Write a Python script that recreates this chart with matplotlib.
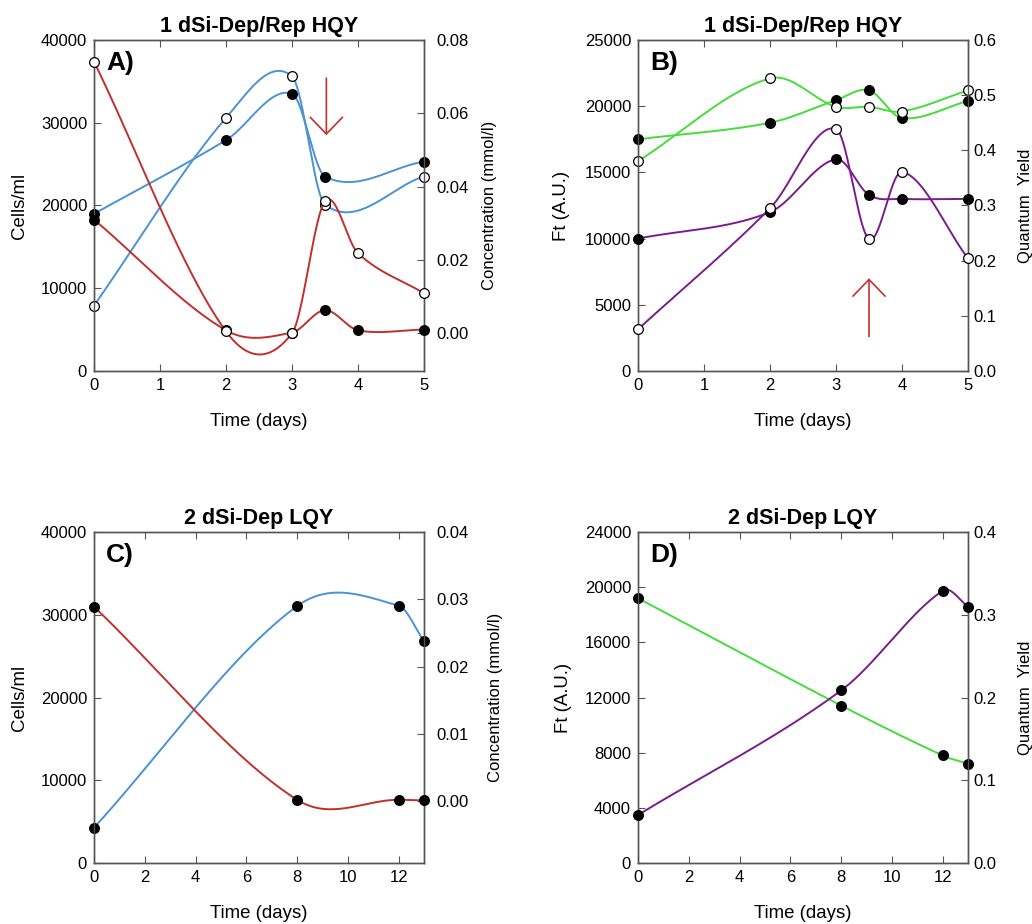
import numpy as np
import matplotlib
matplotlib.use("Agg")
import matplotlib.pyplot as plt
from matplotlib.ticker import FormatStrFormatter

plt.rcParams['font.family'] = ['Liberation Sans', 'DejaVu Sans']

# ---------------- data ----------------
# Panel A (1 dSi-Dep/Rep HQY): cells (left axis) and concentration (right axis)
A_cell_days = [0, 2, 3, 3.5, 5]
A_cells_filled = [19000, 27900, 33500, 23500, 25300]
A_cells_open = [7900, 30600, 35600, 20100, 23500]
A_conc_days = [0, 2, 3, 3.5, 4, 5]
A_conc_filled = [0.031, 0.0008, 0.0002, 0.0063, 0.0008, 0.0010]
A_conc_open = [0.0741, 0.0005, 0.0000, 0.0360, 0.0218, 0.0109]

# Panel B (1 dSi-Dep/Rep HQY): Ft (left) and quantum yield (right)
B_days = [0, 2, 3, 3.5, 4, 5]
B_ft_filled = [17500, 18750, 20450, 21200, 19100, 20400]
B_ft_open = [15850, 22100, 19950, 19950, 19600, 21200]
B_qy_filled = [0.240, 0.288, 0.384, 0.319, 0.312, 0.312]
B_qy_open = [0.0755, 0.295, 0.439, 0.239, 0.361, 0.204]

# Panel C (2 dSi-Dep LQY)
C_days = [0, 8, 12, 13]
C_cells = [4270, 31050, 31100, 26800]
C_conc = [0.0289, 0.0002, 0.0002, 0.0001]

# Panel D (2 dSi-Dep LQY)
D_days = [0, 8, 12, 13]
D_ft = [19200, 11420, 7800, 7200]
D_qy = [0.058, 0.2085, 0.329, 0.310]

# annotation arrows (x, y_start, y_end) in left-axis data units
A_arrow = (3.52, 35400, 28500)
B_arrow = (3.50, 2600, 7000)

BLUE = '#4A92D4'
RED = '#C0302C'
GREEN = '#44DD3A'
PURPLE = '#7A1C8C'
SPINE = '#555555'


def spline(x, y, n=60):
    """Smooth curve through the points (cubic Hermite, finite-difference tangents)."""
    x = np.asarray(x, float)
    y = np.asarray(y, float)
    k = len(x)
    m = np.zeros(k)
    m[0] = (y[1] - y[0]) / (x[1] - x[0])
    m[-1] = (y[-1] - y[-2]) / (x[-1] - x[-2])
    for i in range(1, k - 1):
        m[i] = (y[i + 1] - y[i - 1]) / (x[i + 1] - x[i - 1])
    xs_all, ys_all = [], []
    for i in range(k - 1):
        h = x[i + 1] - x[i]
        t = np.linspace(0, 1, n)
        h00 = 2 * t ** 3 - 3 * t ** 2 + 1
        h10 = t ** 3 - 2 * t ** 2 + t
        h01 = -2 * t ** 3 + 3 * t ** 2
        h11 = t ** 3 - t ** 2
        ys = h00 * y[i] + h10 * h * m[i] + h01 * y[i + 1] + h11 * h * m[i + 1]
        xs_all.append(x[i] + t * h)
        ys_all.append(ys)
    return np.concatenate(xs_all), np.concatenate(ys_all)


def series(ax, x, y, color, filled):
    xs, ys = spline(x, y)
    ax.plot(xs, ys, color=color, lw=1.4, zorder=2)
    ax.plot(x, y, 'o', ms=7, mec='black', mew=0.9,
            mfc='black' if filled else 'white', zorder=3, clip_on=False)


fig = plt.figure(figsize=(10.32, 9.24), dpi=100)

W, H = 0.3198, 0.3582
positions = {
    'A': [0.0911, 0.5985, W, H],
    'B': [0.6182, 0.5985, W, H],
    'C': [0.0911, 0.0660, W, H],
    'D': [0.6182, 0.0660, W, H],
}

TICK = 12
XLAB = 13.4
RLAB = 12
TITLE = 15.5
PANEL = 19


def style(ax, ax2, rpad, xlab_y):
    for a in (ax, ax2):
        for s in a.spines.values():
            s.set_color(SPINE)
            s.set_linewidth(1.0)
    ax.tick_params(axis='x', direction='in', top=True, length=5, width=0.8,
                   color=SPINE, labelsize=TICK, pad=5)
    ax.tick_params(axis='y', direction='in', length=5, width=0.8,
                   color=SPINE, labelsize=TICK, pad=5)
    ax2.tick_params(axis='y', direction='in', length=5, width=0.8,
                    color=SPINE, labelsize=TICK, pad=rpad)
    ax.set_xlabel('Time (days)', fontsize=XLAB)
    ax.xaxis.set_label_coords(0.5, xlab_y)


# ---------- Panel A ----------
ax = fig.add_axes(positions['A'])
ax2 = ax.twinx()
ax2.set_position(positions['A'])
series(ax, A_cell_days, A_cells_filled, BLUE, True)
series(ax, A_cell_days, A_cells_open, BLUE, False)
series(ax2, A_conc_days, A_conc_filled, RED, True)
series(ax2, A_conc_days, A_conc_open, RED, False)
ax.set_xlim(0, 5)
ax.set_xticks([0, 1, 2, 3, 4, 5])
ax.set_ylim(0, 40000)
ax.set_yticks(np.arange(0, 40001, 10000))
ax2.set_ylim(-0.0103, 0.08)
ax2.set_yticks([0, 0.02, 0.04, 0.06, 0.08])
ax2.yaxis.set_major_formatter(FormatStrFormatter('%.2f'))
style(ax, ax2, 9, -0.128)
ax.set_ylabel('Cells/ml', fontsize=XLAB)
ax.yaxis.set_label_coords(-0.2, 0.5)
ax2.set_ylabel('Concentration (mmol/l)', fontsize=RLAB)
ax2.yaxis.set_label_coords(1.176, 0.5)
ax.set_title('1 dSi-Dep/Rep HQY', fontsize=TITLE, fontweight='bold', pad=6)
ax.text(0.036, 0.93, 'A)', transform=ax.transAxes, fontsize=PANEL,
        fontweight='bold', va='center', ha='left')
ax.annotate('', xy=(A_arrow[0], A_arrow[2]), xytext=(A_arrow[0], A_arrow[1]),
            arrowprops=dict(arrowstyle='->,head_length=0.6,head_width=0.58',
                            color='#C83030', lw=1.2, mutation_scale=20,
                            shrinkA=0, shrinkB=0))

# ---------- Panel B ----------
ax = fig.add_axes(positions['B'])
ax2 = ax.twinx()
ax2.set_position(positions['B'])
series(ax, B_days, B_ft_filled, GREEN, True)
series(ax, B_days, B_ft_open, GREEN, False)
series(ax2, B_days, B_qy_filled, PURPLE, True)
series(ax2, B_days, B_qy_open, PURPLE, False)
ax.set_xlim(0, 5)
ax.set_xticks([0, 1, 2, 3, 4, 5])
ax.set_ylim(0, 25000)
ax.set_yticks(np.arange(0, 25001, 5000))
ax2.set_ylim(0, 0.6)
ax2.set_yticks(np.arange(0, 0.61, 0.1))
ax2.yaxis.set_major_formatter(FormatStrFormatter('%.1f'))
style(ax, ax2, 4, -0.128)
ax.set_ylabel('Ft (A.U.)', fontsize=XLAB)
ax.yaxis.set_label_coords(-0.205, 0.5)
ax2.set_ylabel('Quantum  Yield', fontsize=RLAB)
ax2.yaxis.set_label_coords(1.15, 0.5)
ax.set_title('1 dSi-Dep/Rep HQY', fontsize=TITLE, fontweight='bold', pad=6)
ax.text(0.036, 0.93, 'B)', transform=ax.transAxes, fontsize=PANEL,
        fontweight='bold', va='center', ha='left')
ax.annotate('', xy=(B_arrow[0], B_arrow[2]), xytext=(B_arrow[0], B_arrow[1]),
            arrowprops=dict(arrowstyle='->,head_length=0.6,head_width=0.58',
                            color='#C83030', lw=1.2, mutation_scale=20,
                            shrinkA=0, shrinkB=0))

# ---------- Panel C ----------
ax = fig.add_axes(positions['C'])
ax2 = ax.twinx()
ax2.set_position(positions['C'])
series(ax, C_days, C_cells, BLUE, True)
series(ax2, C_days, C_conc, RED, True)
ax.set_xlim(0, 13)
ax.set_xticks(np.arange(0, 13, 2))
ax.set_ylim(0, 40000)
ax.set_yticks(np.arange(0, 40001, 10000))
ax2.set_ylim(-0.0092, 0.04)
ax2.set_yticks([0, 0.01, 0.02, 0.03, 0.04])
ax2.yaxis.set_major_formatter(FormatStrFormatter('%.2f'))
style(ax, ax2, 9, -0.128)
ax.set_ylabel('Cells/ml', fontsize=XLAB)
ax.yaxis.set_label_coords(-0.2, 0.5)
ax2.set_ylabel('Concentration (mmol/l)', fontsize=RLAB)
ax2.yaxis.set_label_coords(1.194, 0.5)
ax.set_title('2 dSi-Dep LQY', fontsize=TITLE, fontweight='bold', pad=6)
ax.text(0.036, 0.93, 'C)', transform=ax.transAxes, fontsize=PANEL,
        fontweight='bold', va='center', ha='left')

# ---------- Panel D ----------
ax = fig.add_axes(positions['D'])
ax2 = ax.twinx()
ax2.set_position(positions['D'])
series(ax, D_days, D_ft, GREEN, True)
series(ax2, D_days, D_qy, PURPLE, True)
ax.set_xlim(0, 13)
ax.set_xticks(np.arange(0, 13, 2))
ax.set_ylim(0, 24000)
ax.set_yticks(np.arange(0, 24001, 4000))
ax2.set_ylim(0, 0.4)
ax2.set_yticks([0, 0.1, 0.2, 0.3, 0.4])
ax2.yaxis.set_major_formatter(FormatStrFormatter('%.1f'))
style(ax, ax2, 4, -0.128)
ax.set_ylabel('Ft (A.U.)', fontsize=XLAB)
ax.yaxis.set_label_coords(-0.2, 0.5)
ax2.set_ylabel('Quantum  Yield', fontsize=RLAB)
ax2.yaxis.set_label_coords(1.15, 0.5)
ax.set_title('2 dSi-Dep LQY', fontsize=TITLE, fontweight='bold', pad=6)
ax.text(0.036, 0.93, 'D)', transform=ax.transAxes, fontsize=PANEL,
        fontweight='bold', va='center', ha='left')

fig.savefig('out.png', dpi=100)
